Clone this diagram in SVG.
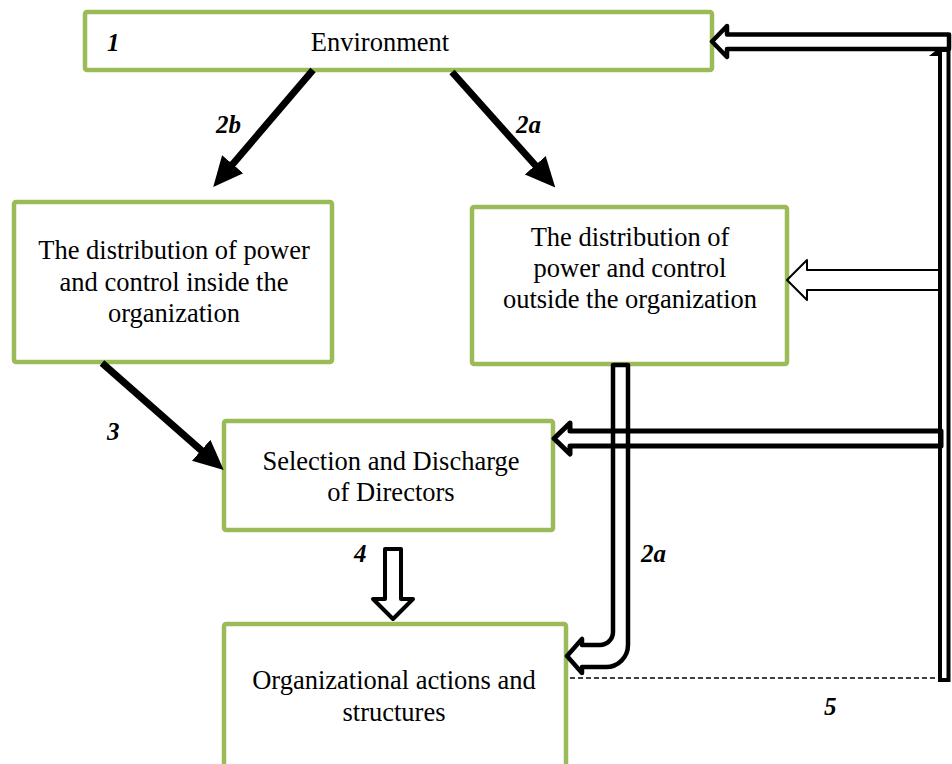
<svg xmlns="http://www.w3.org/2000/svg" width="952" height="764" viewBox="0 0 952 764">
<style>
.box{fill:#fff;stroke:#9BBB59;stroke-width:4.5}
.t{font-family:'Liberation Serif','Times New Roman','DejaVu Serif',serif;font-size:26.5px;fill:#000;text-anchor:middle}
.lbl{font-family:'Liberation Serif','Times New Roman','DejaVu Serif',serif;font-size:25px;font-weight:bold;font-style:italic;fill:#000}
.thick{stroke:#000;stroke-width:7;fill:none}
.hollow{fill:none;stroke:#000;stroke-linejoin:round}
</style>
<defs>
<marker id="head" markerUnits="userSpaceOnUse" markerWidth="30" markerHeight="30" viewBox="0 0 28 28" refX="1" refY="14" orient="auto">
<path d="M0,1 L28,14 L0,27 Z" fill="#000"/>
</marker>
</defs>
<rect width="952" height="764" fill="#fff"/>

<g id="n1">
<rect class="box" x="85" y="12" width="627" height="58" rx="2"/>
<text class="lbl" x="107" y="51">1</text>
<text class="t" x="380" y="51">Environment</text>
</g>
<g id="n2b">
<rect class="box" x="14" y="202" width="318" height="160" rx="2"/>
<text class="t" x="174" y="259">The distribution of power</text>
<text class="t" x="174" y="291">and control inside the</text>
<text class="t" x="174" y="322">organization</text>
</g>
<g id="n2a">
<rect class="box" x="472" y="207" width="315" height="157" rx="2"/>
<text class="t" x="630" y="246">The distribution of</text>
<text class="t" x="630" y="277">power and control</text>
<text class="t" x="630" y="308">outside the organization</text>
</g>
<g id="n3">
<rect class="box" x="224" y="421" width="329" height="109" rx="2"/>
<text class="t" x="391" y="470">Selection and Discharge</text>
<text class="t" x="391" y="501">of Directors</text>
</g>
<g id="n4">
<rect class="box" x="224" y="624" width="342" height="150" rx="2"/>
<text class="t" x="394" y="689">Organizational actions and</text>
<text class="t" x="394" y="721">structures</text>
</g>

<g id="connectors">
<line class="thick" x1="313" y1="70" x2="232" y2="165" marker-end="url(#head)"/>
<line class="thick" x1="452" y1="72" x2="536" y2="166" marker-end="url(#head)"/>
<line class="thick" x1="102" y1="363" x2="202" y2="451" marker-end="url(#head)"/>
<rect x="940" y="50" width="8.5" height="630" fill="#fff" stroke="#000" stroke-width="4"/>
<polygon points="929,56 939,48 939,56" fill="#000"/>
<path class="hollow" stroke-width="4.5" fill="#fff" d="M949,34.5 H727 V26 L712,41.5 L727,57 V49 H949 Z"/>
<path class="hollow" stroke-width="2" fill="#fff" d="M940,270 H807 V260 L787,280 L807,300 V290 H940"/>
<path class="hollow" stroke-width="5" d="M941,431 H570 V423 L554,438.5 L570,454 V446 H941 Z"/>
<path class="hollow" stroke-width="4.5" d="M613,365 H628 V645 A22,22 0 0 1 606,667 H582 V673 L567,656 L582,639 V645 H600 A13,13 0 0 0 613,632 Z"/>
<path class="hollow" stroke-width="4" fill="#fff" d="M385,549 H401 V599 H413 L393,619 L373,599 H385 Z"/>
<line x1="570" y1="678" x2="938" y2="678" stroke="#000" stroke-width="1.5" stroke-dasharray="5,3"/>
<text class="lbl" x="216" y="133">2b</text>
<text class="lbl" x="516" y="133">2a</text>
<text class="lbl" x="107" y="440">3</text>
<text class="lbl" x="354" y="562">4</text>
<text class="lbl" x="641" y="562">2a</text>
<text class="lbl" x="824" y="715">5</text>
</g>
</svg>
